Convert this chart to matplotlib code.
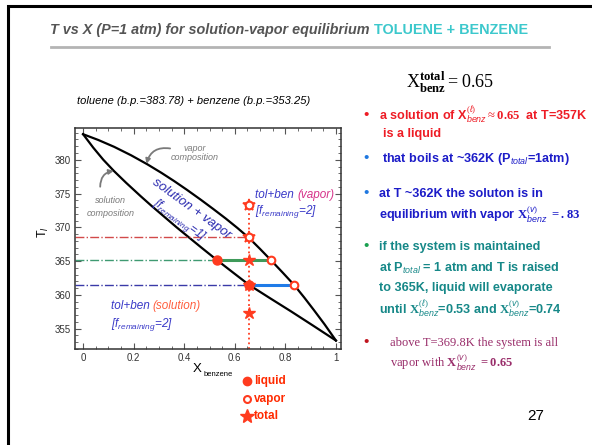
import matplotlib
matplotlib.use("Agg")
import matplotlib.pyplot as plt
from matplotlib.lines import Line2D
from matplotlib.patches import Rectangle
from matplotlib.ticker import MultipleLocator

plt.rcParams['font.family'] = ['Liberation Sans', 'DejaVu Sans']
plt.rcParams['mathtext.fontset'] = 'custom'
plt.rcParams['mathtext.rm'] = 'Liberation Serif'
plt.rcParams['mathtext.it'] = 'Liberation Sans:italic'
plt.rcParams['mathtext.bf'] = 'Liberation Serif:bold'

W, H = 592, 445

# liquid (bubble) and vapor (dew) curves
x_liquid = [0.0, 0.04, 0.08, 0.123, 0.17, 0.228, 0.27, 0.32, 0.37, 0.419, 0.47,
            0.528, 0.59, 0.656, 0.74, 0.821, 0.91, 1.0]
T_liquid = [383.78, 381.8, 380.0, 378.3, 376.6, 374.6, 373.2, 371.6, 370.0, 368.5, 366.94,
            365.2, 363.4, 361.5, 359.5, 357.6, 355.45, 353.25]
x_vapor = [0.0, 0.06, 0.123, 0.19, 0.254, 0.31, 0.36, 0.41, 0.465, 0.515, 0.564, 0.61,
           0.656, 0.70, 0.744, 0.79, 0.834, 0.875, 0.913, 0.955, 1.0]
T_vapor = [383.78, 382.93, 381.91, 380.66, 379.33, 378.06, 376.85, 375.57, 374.1, 372.71,
           371.31, 369.92, 368.44, 366.8, 365.1, 363.28, 361.5, 359.6, 357.75, 355.65, 353.25]

# state points
x_total = 0.656
T_total = [373.3, 368.5, 365.1, 361.4, 357.3]
x_liq_pts = [0.528, 0.656]
T_liq_pts = [365.1, 361.4]
x_vap_pts = [0.656, 0.744, 0.834]
T_vap_pts = [368.5, 365.1, 361.4]

# horizontal guide levels
T_levels = [368.5, 365.1, 361.4]
x_dash_end = [0.656, 0.528, 0.656]
x_tie_end = [None, 0.744, 0.834]
dash_colors = ['#d24a4a', '#3f9a72', '#3a3aa8']
tie_colors = [None, '#3f9a5a', '#1f7be8']

mk = '#ff3b1f'

fig = plt.figure(figsize=(W / 100, H / 100), dpi=100)
rend = fig.canvas.get_renderer()


def fx(px):
    return px / W


def fy(py):
    return 1 - py / H


def put_row(parts, x, y, **kw):
    # draw pieces of text one after another on a line (pixel coords)
    for s, c, extra in parts:
        opts = dict(kw)
        opts.update(extra)
        t = fig.text(fx(x), fy(y), s, color=c, ha='left', va='center', **opts)
        x = t.get_window_extent(rend).x1
    return x


# slide frame + title
fig.add_artist(Rectangle((fx(8), fy(460)), fx(620), fy(6) - fy(460), transform=fig.transFigure,
                         fill=False, ec='black', lw=2.2))
put_row([('T vs X (P=1 atm) for solution-vapor equilibrium ', '#555555', dict(style='italic')),
         ('TOLUENE + BENZENE', '#3cc8cc', {})],
        50, 30, fontsize=10.4, fontweight='bold')
fig.add_artist(Line2D([fx(51), fx(549)], [fy(47), fy(47)], transform=fig.transFigure,
                      color='#b4b4b4', lw=2))

fig.text(fx(77), fy(101), 'toluene (b.p.=383.78) + benzene (b.p.=353.25)', style='italic',
         fontsize=8, va='center', ha='left')

# phase diagram
ax = fig.add_axes([fx(75), fy(349), fx(266), fy(128) - fy(349)])
ax.set_xlim(-0.032, 1.02)
ax.set_ylim(352.0, 384.7)
ax.plot(x_liquid, T_liquid, color='black', lw=1.6)
ax.plot(x_vapor, T_vapor, color='black', lw=1.6)

for i, T in enumerate(T_levels):
    ax.plot([-0.032, x_dash_end[i]], [T, T], color=dash_colors[i], lw=1.0, ls='-.')
    if x_tie_end[i] is not None:
        ax.plot([x_dash_end[i], x_tie_end[i]], [T, T], color=tie_colors[i], lw=2.2)

ax.plot([x_total, x_total], [352.0, T_total[0]], color=mk, lw=1.3, ls=':')
ax.plot([x_total] * 2, [T_total[2], T_total[4]], ls='none', marker='*', ms=9, color=mk)
ax.plot([x_total] * 2, [T_total[0], T_total[1]], ls='none', marker='*', ms=9,
        mfc='white', mec=mk, mew=1.2)
ax.plot([x_total], [T_total[3]], ls='none', marker='*', ms=9, color=mk)
ax.plot(x_liq_pts, T_liq_pts, ls='none', marker='o', ms=6.5, color=mk)
ax.plot(x_vap_pts + [x_total], T_vap_pts + [T_total[0]], ls='none', marker='o', ms=5.5,
        mfc='white', mec=mk, mew=1.5)

ax.set_xticks([0, 0.2, 0.4, 0.6, 0.8, 1.0])
ax.set_xticklabels(['0', '0.2', '0.4', '0.6', '0.8', '1'])
ax.set_yticks([355, 360, 365, 370, 375, 380])
ax.xaxis.set_minor_locator(MultipleLocator(0.05))
ax.yaxis.set_minor_locator(MultipleLocator(1))
ax.tick_params(which='both', direction='in', top=True, right=True, labelsize=7,
               labelcolor='#333333', color='#555555', pad=3)
ax.tick_params(which='major', length=4)
ax.tick_params(which='minor', length=2)
for sp in ax.spines.values():
    sp.set_color('#333333')
    sp.set_linewidth(1.1)

# labels inside the plot
gray = '#7a7a7a'
ax.text(0.44, 381.0, 'vapor\ncomposition', color=gray, style='italic', fontsize=6.5,
        ha='center', va='center', linespacing=1.1)
ax.text(0.11, 373.0, 'solution\ncomposition', color=gray, style='italic', fontsize=6.5,
        ha='center', va='center', linespacing=1.6)
ax.annotate('', xy=(0.248, 379.0), xytext=(0.355, 381.6),
            arrowprops=dict(arrowstyle='-|>', color=gray, lw=1.3, mutation_scale=7,
                            connectionstyle='arc3,rad=0.5'))
ax.annotate('', xy=(0.132, 378.4), xytext=(0.068, 375.6),
            arrowprops=dict(arrowstyle='-|>', color=gray, lw=1.3, mutation_scale=7,
                            connectionstyle='arc3,rad=-0.5'))
ax.text(0.43, 372.7, 'solution + vapor', color='#2b2bb0', style='italic', fontsize=9.5,
        rotation=-36, ha='center', va='center', rotation_mode='anchor')
ax.text(0.38, 371.0, r'[$f_{remaining}$=1]', color='#2b2bb0', style='italic', fontsize=8.5,
        rotation=-36, ha='center', va='center', rotation_mode='anchor')

blue = '#3a3ac8'
px, py = ax.transData.transform((0.68, 374.8))
put_row([('tol+ben ', blue, {}), ('(vapor)', '#d6338a', {})], px, H - py,
        fontsize=8.5, style='italic')
px, py = ax.transData.transform((0.68, 372.4))
put_row([(r'[$f_{remaining}$=2]', blue, {})], px, H - py, fontsize=8.5, style='italic')
px, py = ax.transData.transform((0.11, 358.3))
put_row([('tol+ben ', blue, {}), ('(solution)', '#ff6040', {})], px, H - py,
        fontsize=8.5, style='italic')
px, py = ax.transData.transform((0.11, 355.6))
put_row([(r'[$f_{remaining}$=2]', blue, {})], px, H - py, fontsize=8.5, style='italic')

fig.text(fx(43), fy(232), r'T$_l$', rotation=90, fontsize=9, ha='center', va='center')
fig.text(fx(197), fy(369), 'X', fontsize=9.5, ha='center', va='center')
fig.text(fx(204), fy(374), 'benzene', fontsize=5.5, ha='left', va='center')

# legend under the plot
leg_y = [381, 399, 416]
leg_txt = ['liquid', 'vapor', 'total']
leg_style = [dict(marker='o', ms=6, color=mk),
             dict(marker='o', ms=5, mfc='white', mec=mk, mew=1.5),
             dict(marker='*', ms=10, color=mk)]
for yy, s, st in zip(leg_y, leg_txt, leg_style):
    fig.add_artist(Line2D([fx(247)], [fy(yy)], transform=fig.transFigure, ls='none', **st))
    fig.text(fx(254), fy(yy), s, color='#ff2a00', fontweight='bold', fontsize=8.5,
             ha='left', va='center')

# right-hand notes
fig.text(fx(450), fy(82), r'$\mathrm{X}_{\mathbf{benz}}^{\mathbf{total}} = 0.65$', fontsize=13,
         ha='center', va='center')

red = '#ee1c25'
dblue = '#1c1cc8'
teal = '#168888'
note = dict(fontsize=9.1, fontweight='bold', ha='left', va='center')
fig.text(fx(363), fy(115), '\u2022', color=red, fontsize=11, ha='left', va='center')
fig.text(fx(379), fy(115), r'a solution of X$^{(\ell)}_{benz}$$\approx$$\mathbf{0.65}$  at T=357K',
         color=red, **note)
fig.text(fx(383), fy(134), 'is a liquid', color=red, **note)

fig.text(fx(363), fy(158), '\u2022', color='#1f78e0', fontsize=11, ha='left', va='center')
fig.text(fx(382), fy(159), r'that boils at ~362K (P$_{total}$=1atm)', color=dblue, **note)

fig.text(fx(363), fy(193), '\u2022', color='#1f78e0', fontsize=11, ha='left', va='center')
fig.text(fx(379), fy(194), 'at T ~362K the soluton is in', color=dblue, **note)
fig.text(fx(379), fy(215), r'equilibrium with vapor $\mathbf{X}^{(v)}_{benz}$ $\mathbf{= .83}$',
         color=dblue, **note)

fig.text(fx(363), fy(246), '\u2022', color='#1aa050', fontsize=11, ha='left', va='center')
green_lines = ['if the system is maintained',
               r'at P$_{total}$ = 1 atm and T is raised',
               'to 365K, liquid will evaporate',
               r'until $\mathbf{X}^{(\ell)}_{benz}$=0.53 and $\mathbf{X}^{(v)}_{benz}$=0.74']
for yy, s in zip([247, 268, 288, 309], green_lines):
    fig.text(fx(379), fy(yy), s, color=teal, **note)

fig.text(fx(363), fy(342), '\u2022', color='#c0141e', fontsize=11, ha='left', va='center')
fig.text(fx(390), fy(343), 'above T=369.8K the system is all', color='#992d6a',
         family='Liberation Serif', fontsize=9, ha='left', va='center')
fig.text(fx(390), fy(363), r'vapor with $\mathbf{X}^{(v)}_{benz}$ $\mathbf{= 0.65}$',
         color='#992d6a', family='Liberation Serif', fontsize=9, ha='left', va='center')

fig.text(fx(536), fy(416), '27', fontsize=11, ha='center', va='center')

fig.savefig('out.png', dpi=100)
